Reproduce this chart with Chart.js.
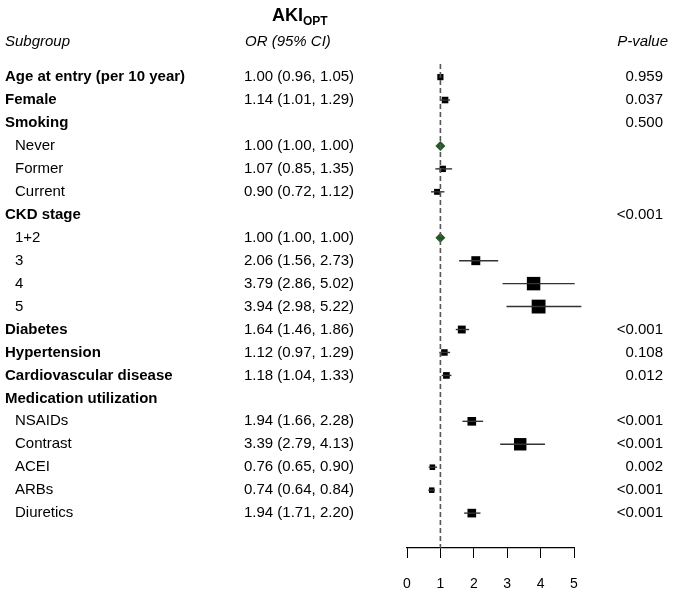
<!DOCTYPE html>
<html>
<head>
<meta charset="utf-8">
<script src="https://cdn.jsdelivr.net/npm/chart.js@4"></script>
<style>
  html, body { margin: 0; padding: 0; background: #fff; }
  #wrap { width: 673px; height: 595px; position: relative; }
</style>
</head>
<body>
<div id="wrap"><canvas id="c"></canvas></div>
<script>
// ---- data ----
const rowLabels = ['Age at entry (per 10 year)', 'Female', 'Smoking', 'Never', 'Former', 'Current',
  'CKD stage', '1+2', '3', '4', '5', 'Diabetes', 'Hypertension', 'Cardiovascular disease',
  'Medication utilization', 'NSAIDs', 'Contrast', 'ACEI', 'ARBs', 'Diuretics'];
const rowLevel = [0, 0, 0, 1, 1, 1, 0, 1, 1, 1, 1, 0, 0, 0, 0, 1, 1, 1, 1, 1];
const orEst  = [1.00, 1.14, null, 1.00, 1.07, 0.90, null, 1.00, 2.06, 3.79, 3.94, 1.64, 1.12, 1.18, null, 1.94, 3.39, 0.76, 0.74, 1.94];
const ciLow  = [0.96, 1.01, null, 1.00, 0.85, 0.72, null, 1.00, 1.56, 2.86, 2.98, 1.46, 0.97, 1.04, null, 1.66, 2.79, 0.65, 0.64, 1.71];
const ciHigh = [1.05, 1.29, null, 1.00, 1.35, 1.12, null, 1.00, 2.73, 5.02, 5.22, 1.86, 1.29, 1.33, null, 2.28, 4.13, 0.90, 0.84, 2.20];
const pValues = ['0.959', '0.037', '0.500', '', '', '', '<0.001', '', '', '', '', '<0.001', '0.108', '0.012', '', '<0.001', '<0.001', '0.002', '<0.001', '<0.001'];
const xTicks = [0, 1, 2, 3, 4, 5];
const nullValue = 1;
const titleMain = 'AKI', titleSub = 'OPT';
const headers = ['Subgroup', 'OR (95% CI)', 'P-value'];

// ---- layout constants ----
const Y_MIN = -0.57, Y_MAX = 20.52;
const FONT = '"Liberation Sans", Arial, sans-serif';

const isRef = orEst.map((e, i) => e !== null && ciLow[i] === ciHigh[i]);

const datasets = [];
// reference (null) line
datasets.push({
  data: [{x: nullValue, y: Y_MIN}, {x: nullValue, y: Y_MAX}],
  showLine: true, borderColor: '#555', borderWidth: 1.6, borderDash: [5, 3],
  pointRadius: 0, clip: false
});
// CI lines
orEst.forEach((e, i) => {
  if (e === null || isRef[i]) return;
  datasets.push({
    data: [{x: ciLow[i], y: i}, {x: ciHigh[i], y: i}],
    showLine: true, borderColor: '#333', borderWidth: 1.4,
    pointRadius: 0, clip: false
  });
});
// boxes
datasets.push({
  data: orEst.map((e, i) => (e === null || isRef[i]) ? null : {x: e, y: i}).filter(d => d),
  pointStyle: 'rect', backgroundColor: '#000', borderWidth: 0,
  pointRadius: ctx => { const v = ctx.raw ? ctx.raw.x : 1; return (3.6 + 2.6 * v) / Math.SQRT2; },
  clip: false
});
// reference diamonds
datasets.push({
  data: orEst.map((e, i) => isRef[i] ? {x: e, y: i} : null).filter(d => d),
  pointStyle: 'rectRot', backgroundColor: '#1e5b1e', borderWidth: 0, pointRadius: 5,
  clip: false
});

const textPlugin = {
  id: 'forestText',
  afterDraw(chart) {
    const ctx = chart.ctx;
    const ys = chart.scales.y;
    ctx.save();
    ctx.fillStyle = '#000';
    // title
    ctx.textAlign = 'left';
    ctx.font = 'bold 18px ' + FONT;
    ctx.textBaseline = 'alphabetic';
    const tx = 272;
    ctx.fillText(titleMain, tx, 21);
    const w = ctx.measureText(titleMain).width;
    ctx.font = 'bold 12px ' + FONT;
    ctx.fillText(titleSub, tx + w, 25);
    // headers
    ctx.textBaseline = 'middle';
    ctx.font = 'italic 15px ' + FONT;
    ctx.textAlign = 'left';
    ctx.fillText(headers[0], 5, 42);
    ctx.fillText(headers[1], 245, 42);
    ctx.textAlign = 'right';
    ctx.fillText(headers[2], 668, 42);
    // rows
    rowLabels.forEach((lab, i) => {
      const y = ys.getPixelForValue(i);
      ctx.textAlign = 'left';
      if (rowLevel[i] === 0) {
        ctx.font = 'bold 15px ' + FONT;
        ctx.fillText(lab, 5, y);
      } else {
        ctx.font = '15px ' + FONT;
        ctx.fillText(lab, 15, y);
      }
      ctx.font = '15px ' + FONT;
      if (orEst[i] !== null) {
        const s = orEst[i].toFixed(2) + ' (' + ciLow[i].toFixed(2) + ', ' + ciHigh[i].toFixed(2) + ')';
        ctx.fillText(s, 244, y);
      }
      if (pValues[i]) {
        ctx.textAlign = 'right';
        ctx.fillText(pValues[i], 663, y);
      }
    });
    ctx.restore();
  }
};

new Chart(document.getElementById('c'), {
  type: 'scatter',
  data: { datasets },
  options: {
    responsive: true, maintainAspectRatio: false, animation: false,
    layout: { padding: { left: 407, right: 99, top: 64, bottom: 0 } },
    plugins: { legend: { display: false }, tooltip: { enabled: false } },
    scales: {
      x: {
        type: 'linear', min: xTicks[0], max: xTicks[xTicks.length - 1],
        afterFit: s => { s.height = 47; },
        afterBuildTicks: s => { s.ticks = xTicks.map(v => ({value: v})); },
        grid: { display: true, drawOnChartArea: false, drawTicks: true, tickLength: 10, color: '#000', lineWidth: 1 },
        border: { display: true, color: '#000', width: 1.2 },
        ticks: { color: '#000', font: { family: FONT, size: 14 }, padding: 18, maxRotation: 0 }
      },
      y: { type: 'linear', reverse: true, min: Y_MIN, max: Y_MAX, display: false }
    }
  },
  plugins: [textPlugin]
});
</script>
</body>
</html>
